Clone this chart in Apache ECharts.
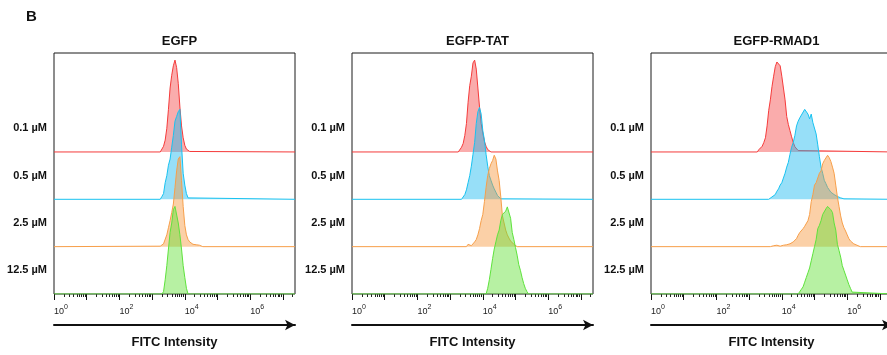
<!DOCTYPE html>
<html>
<head>
<meta charset="utf-8">
<title>FITC Intensity</title>
<script src="https://cdn.jsdelivr.net/npm/echarts/dist/echarts.min.js"></script>
<style>
  html, body { margin: 0; padding: 0; background: #ffffff; }
  #chart { width: 887px; height: 355px; }
</style>
</head>
<body>
<div id="chart"></div>
<script>
// Panels, doses and axis ticks
const panels = ['EGFP', 'EGFP-TAT', 'EGFP-RMAD1'];
const doses = ['0.1 µM', '0.5 µM', '2.5 µM', '12.5 µM'];
const tickExponents = [0, 2, 4, 6];
const majorDecades = [0, 1, 2, 3, 4, 5, 6, 7];

// Histogram bins: width in decades of FITC intensity (log10 units)
const binWidth = 0.05;

// EGFP: first bin position (log10) per dose, then normalised counts per bin
const egfpStarts = [3.25, 3.25, 3.25, 3.30];
const egfp01 = [0, 0.04, 0.12, 0.25, 0.5, 0.9, 1.35, 1.62, 1.82, 1.94, 1.78, 1.45, 0.95, 0.55, 0.3, 0.14, 0.06, 0.03, 0.01, 0];
const egfp05 = [0, 0.06, 0.12, 0.35, 0.5, 0.72, 0.85, 1.1, 1.35, 1.65, 1.75, 1.85, 1.9, 1.15, 0.55, 0.3, 0.12, 0.03, 0];
const egfp25 = [0.01, 0.04, 0.06, 0.1, 0.25, 0.4, 0.55, 0.72, 0.9, 1.25, 1.6, 1.85, 1.9, 1.4, 0.85, 0.45, 0.25, 0.15, 0.1, 0.06, 0.05, 0.03, 0.04, 0.02, 0.03, 0.01, 0];
const egfp125 = [0, 0.05, 0.3, 0.6, 0.95, 1.3, 1.5, 1.78, 1.85, 1.88, 1.5, 1.25, 0.95, 0.6, 0.35, 0.12, 0];

// EGFP-TAT
const tatStarts = [3.25, 3.35, 3.50, 4.10];
const tat01 = [0, 0.03, 0.1, 0.18, 0.35, 0.6, 1.05, 1.4, 1.6, 1.88, 1.94, 1.75, 1.35, 0.95, 0.6, 0.4, 0.22, 0.12, 0.05, 0.01, 0];
const tat05 = [0, 0.02, 0.1, 0.2, 0.35, 0.5, 0.7, 0.95, 1.2, 1.6, 1.85, 1.94, 1.8, 1.45, 1.25, 0.95, 0.7, 0.5, 0.4, 0.3, 0.22, 0.15, 0.08, 0.04, 0.01, 0];
const tat25 = [0, 0.05, 0.08, 0.02, 0.05, 0.1, 0.15, 0.25, 0.38, 0.55, 0.68, 0.95, 1.25, 1.5, 1.65, 1.75, 1.82, 1.93, 1.85, 1.6, 1.4, 1.05, 0.65, 0.5, 0.35, 0.25, 0.18, 0.12, 0.08, 0.05, 0.02, 0];
const tat125 = [0, 0.12, 0.3, 0.52, 0.75, 0.95, 1.1, 1.25, 1.35, 1.55, 1.68, 1.72, 1.75, 1.84, 1.88, 1.6, 1.3, 1.15, 0.98, 0.82, 0.62, 0.5, 0.35, 0.22, 0.12, 0.05, 0];

// EGFP-RMAD1
const rmadStarts = [3.25, 3.60, 3.65, 4.50];
const rmad01 = [0, 0.05, 0.08, 0.12, 0.2, 0.3, 0.55, 0.88, 1.1, 1.38, 1.6, 1.8, 1.9, 1.93, 1.82, 1.6, 1.35, 1.1, 0.75, 0.58, 0.45, 0.32, 0.2, 0.11, 0.07, 0.03, 0];
const rmad05 = [0, 0.02, 0.05, 0.07, 0.1, 0.17, 0.22, 0.3, 0.35, 0.45, 0.55, 0.68, 0.78, 0.95, 1.1, 1.2, 1.35, 1.55, 1.65, 1.72, 1.78, 1.8, 1.9, 1.94, 1.8, 1.7, 1.8, 1.62, 1.58, 1.38, 1.15, 0.9, 0.68, 0.55, 0.4, 0.33, 0.25, 0.2, 0.15, 0.13, 0.1, 0.08, 0.06, 0.05, 0.03, 0.04, 0.01, 0];
const rmad25 = [0, 0.04, 0.02, 0.05, 0.03, 0.04, 0.01, 0.02, 0.03, 0.01, 0.04, 0.03, 0.06, 0.08, 0.1, 0.13, 0.17, 0.24, 0.3, 0.32, 0.38, 0.43, 0.45, 0.55, 0.68, 0.95, 1.1, 1.3, 1.35, 1.45, 1.55, 1.6, 1.75, 1.82, 1.85, 1.93, 1.88, 1.8, 1.68, 1.55, 1.3, 1.05, 0.85, 0.65, 0.5, 0.4, 0.33, 0.25, 0.17, 0.12, 0.08, 0.06, 0.05, 0.03, 0.02, 0];
const rmad125 = [0, 0.02, 0.1, 0.15, 0.25, 0.35, 0.45, 0.55, 0.7, 0.85, 1.0, 1.15, 1.38, 1.45, 1.55, 1.68, 1.7, 1.8, 1.85, 1.88, 1.78, 1.72, 1.5, 1.35, 1.05, 0.92, 0.78, 0.6, 0.5, 0.4, 0.3, 0.2, 0.12, 0.04, 0];

const panelStarts = [egfpStarts, tatStarts, rmadStarts];
const panelCounts = [
  [egfp01, egfp05, egfp25, egfp125],
  [tat01, tat05, tat25, tat125],
  [rmad01, rmad05, rmad25, rmad125]
];

// Styling
const lineColors = ['#f53b3b', '#18c2f0', '#f79f4a', '#5ee23c'];
const fillColors = ['rgba(245,70,70,0.45)', 'rgba(25,185,240,0.45)', 'rgba(247,150,60,0.45)', 'rgba(95,225,50,0.45)'];
const fontFamily = '"Liberation Sans", Arial, Helvetica, sans-serif';

const xMin = 0, xMax = 7.37;      // log10 range shown on the intensity axis
const yMax = 5.09;                // vertical extent in row units
const gridLefts = [54, 352, 651];
const gridTop = 53, gridSize = 241;

// log-spaced minor tick positions between decades
const minorTicks = [];
majorDecades.forEach(d => {
  for (let k = 2; k <= 9; k++) {
    const v = d + Math.log10(k);
    if (v <= xMax) minorTicks.push(v);
  }
});

const grids = [], xAxes = [], yAxes = [], series = [];

panels.forEach((name, p) => {
  grids.push({
    left: gridLefts[p], top: gridTop, width: gridSize, height: gridSize,
    containLabel: false, outerBoundsMode: 'none',
    show: true, borderColor: '#1a1a1a', borderWidth: 1, backgroundColor: 'transparent'
  });

  // main axis: decade ticks and 10^n labels
  xAxes.push({
    gridIndex: p, type: 'value', min: xMin, max: xMax, position: 'bottom',
    axisLine: { show: false }, splitLine: { show: false },
    axisTick: { show: true, customValues: majorDecades, length: 6, lineStyle: { color: '#111', width: 1 } },
    axisLabel: {
      customValues: tickExponents, align: 'left', margin: 10, color: '#222',
      fontFamily: fontFamily,
      formatter: v => '{b|10}{s|' + v + '}',
      rich: {
        b: { fontSize: 9, fontFamily: fontFamily, color: '#222', verticalAlign: 'bottom' },
        s: { fontSize: 7, fontFamily: fontFamily, color: '#222', verticalAlign: 'bottom', padding: [0, 0, 5, 0] }
      }
    }
  });
  // minor ticks
  xAxes.push({
    gridIndex: p, type: 'value', min: xMin, max: xMax, position: 'bottom',
    axisLine: { show: false }, splitLine: { show: false }, axisLabel: { show: false },
    axisTick: { show: true, customValues: minorTicks, length: 3, lineStyle: { color: '#222', width: 1 } }
  });
  // arrow with axis title
  xAxes.push({
    gridIndex: p, type: 'value', min: xMin, max: xMax, position: 'bottom', offset: 31,
    axisLine: { show: true, symbol: ['none', 'arrow'], symbolSize: [8, 10], lineStyle: { color: '#111', width: 2 } },
    axisTick: { show: false }, axisLabel: { show: false }, splitLine: { show: false },
    name: 'FITC Intensity', nameLocation: 'middle', nameGap: 11,
    nameTextStyle: { fontSize: 13, fontWeight: 'bold', color: '#111', fontFamily: fontFamily }
  });

  yAxes.push({
    gridIndex: p, type: 'value', min: 0, max: yMax,
    axisLine: { show: false }, axisTick: { show: false }, splitLine: { show: false },
    axisLabel: {
      customValues: [0.5, 1.5, 2.5, 3.5], margin: 7,
      fontSize: 11, fontWeight: 'bold', color: '#111', fontFamily: fontFamily,
      formatter: v => doses[3 - Math.floor(v)]
    }
  });

  doses.forEach((dose, d) => {
    const offset = 3 - d;
    const start = panelStarts[p][d];
    const counts = panelCounts[p][d];
    const data = [[xMin, offset]];
    counts.forEach((c, i) => data.push([start + i * binWidth, offset + c]));
    data.push([xMax, offset]);
    series.push({
      name: name + ' ' + dose,
      type: 'line',
      xAxisIndex: p * 3, yAxisIndex: p,
      data: data,
      showSymbol: false, symbol: 'none',
      z: 2 + d,
      lineStyle: { color: lineColors[d], width: 1 },
      areaStyle: { color: fillColors[d], origin: offset, opacity: 1 },
      animation: false
    });
  });
});

const chart = echarts.init(document.getElementById('chart'), null, { renderer: 'canvas' });
chart.setOption({
  animation: false,
  backgroundColor: '#ffffff',
  textStyle: { fontFamily: fontFamily },
  title: [
    { text: 'B', left: 21, top: 4, textStyle: { fontSize: 15, fontWeight: 'bold', color: '#111', fontFamily: fontFamily } }
  ].concat(panels.map((t, p) => ({
    text: t, left: gridLefts[p] + gridSize / 2, top: 30, textAlign: 'center',
    textStyle: { fontSize: 13, fontWeight: 'bold', color: '#111', fontFamily: fontFamily }
  }))),
  grid: grids,
  xAxis: xAxes,
  yAxis: yAxes,
  series: series
});
</script>
</body>
</html>
